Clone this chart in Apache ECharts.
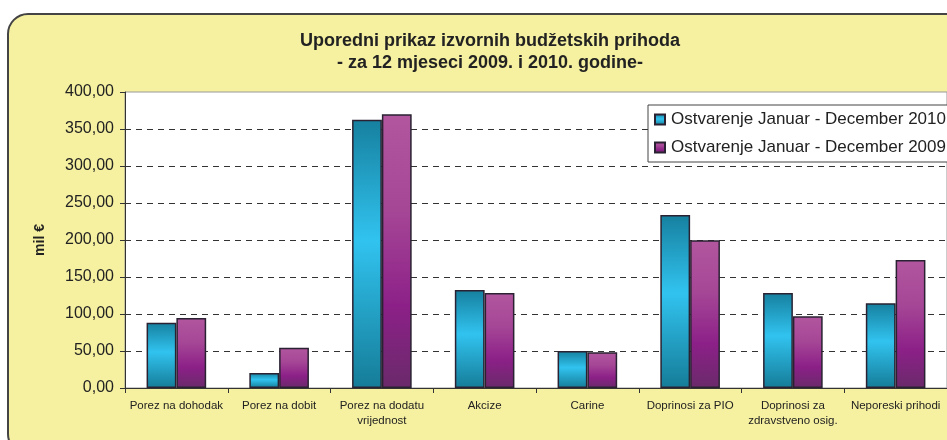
<!DOCTYPE html>
<html><head><meta charset="utf-8">
<script src="https://cdn.jsdelivr.net/npm/echarts@6/dist/echarts.min.js"></script>
<style>html,body{margin:0;padding:0;background:#fff}#c{width:947px;height:440px}</style>
</head><body><div id="c"></div>
<script>
var categories = ['Porez na dohodak','Porez na dobit','Porez na dodatu\nvrijednost','Akcize','Carine','Doprinosi za PIO','Doprinosi za\nzdravstveno osig.','Neporeski prihodi'];
var series2010 = [88.2, 20.3, 362.5, 132.4, 50.0, 233.8, 128.4, 114.4];
var series2009 = [94.6, 54.5, 370.0, 128.4, 48.2, 199.5, 96.9, 173.0];
var seriesNames = ['Ostvarenje Januar - December 2010','Ostvarenje Januar - December 2009'];
var titleLines = ['Uporedni prikaz izvornih budžetskih prihoda','- za 12 mjeseci 2009. i 2010. godine-'];

var FONT = '"Liberation Sans", Arial, sans-serif';
var chart = echarts.init(document.getElementById('c'));
var blue = new echarts.graphic.LinearGradient(0,0,0,1,[
  {offset:0,color:'#16809F'},{offset:0.45,color:'#31C3EF'},{offset:1,color:'#157C98'}]);
var purple = new echarts.graphic.LinearGradient(0,0,0,1,[
  {offset:0,color:'#B2569F'},{offset:0.35,color:'#A64796'},{offset:0.7,color:'#8C2088'},{offset:1,color:'#6A2A6A'}]);
var splitColors = ['#333','#333','#333','#333','#333','#333','#333','#333','rgba(0,0,0,0)'];
chart.setOption({
  animation:false,
  textStyle:{fontFamily:FONT},
  graphic:[{type:'rect',z:-10,silent:true,shape:{x:8,y:14,width:1000,height:440,r:20},
    style:{fill:'#F6F1A0',stroke:'#444',lineWidth:2}}],
  title:{text:titleLines.join('\n'),left:485,top:25,textAlign:'center',
    textStyle:{fontFamily:FONT,fontSize:18,fontWeight:'bold',color:'#222',lineHeight:22}},
  legend:{orient:'vertical',left:648,top:105,padding:[6,6,6,6],itemGap:11,
    backgroundColor:'#fff',borderColor:'#444',borderWidth:1,
    itemWidth:10,itemHeight:10,icon:'rect',
    textStyle:{fontFamily:FONT,fontSize:17,color:'#222',padding:[0,0,0,1]},
    data:seriesNames},
  grid:{left:125,top:92,right:-1,bottom:52,show:true,backgroundColor:'#fff',borderColor:'#999',borderWidth:1},
  xAxis:{type:'category',data:categories,
    axisLine:{lineStyle:{color:'#333',width:1}},
    axisTick:{show:true,length:5,lineStyle:{color:'#333'}},
    axisLabel:{interval:0,fontSize:11.5,color:'#222',margin:10,lineHeight:15}},
  yAxis:{type:'value',min:0,max:400,interval:50,
    name:'mil €',nameLocation:'middle',nameRotate:90,nameGap:78,
    nameTextStyle:{fontFamily:FONT,fontSize:14,fontWeight:'bold',color:'#222'},
    axisLine:{show:true,lineStyle:{color:'#333',width:1}},
    axisTick:{show:true,length:5,lineStyle:{color:'#333'}},
    axisLabel:{fontSize:16,color:'#222',margin:11,formatter:function(v){return v.toFixed(2).replace('.',',');}},
    splitLine:{show:true,lineStyle:{color:splitColors,type:[6,5],width:1}}},
  series:[
    {name:seriesNames[0],type:'bar',data:series2010,barGap:'0%',barCategoryGap:'42%',
      itemStyle:{color:blue,borderColor:'#2A2232',borderWidth:1.5}},
    {name:seriesNames[1],type:'bar',data:series2009,barGap:'0%',barCategoryGap:'42%',
      itemStyle:{color:purple,borderColor:'#2A2232',borderWidth:1.5}}
  ]
});
</script></body></html>
